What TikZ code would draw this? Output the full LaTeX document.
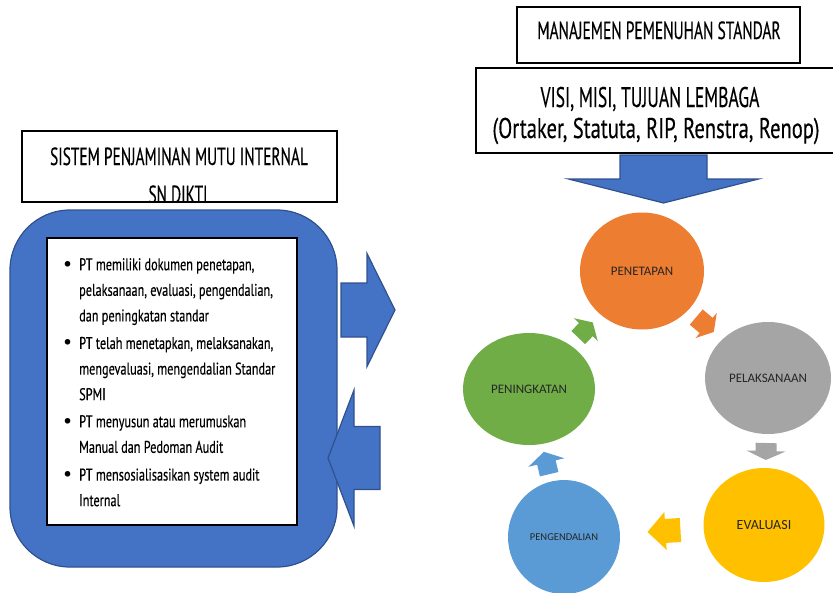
\documentclass[tikz,border=0pt]{standalone}
\usepackage{fontspec}
\setmainfont{PT Sans}
\newfontfamily\condfont[FakeStretch=0.62,FakeBold=0.3]{PT Sans}
\newfontfamily\textcondfont[FakeStretch=0.72,FakeBold=0.3]{PT Sans}
\newfontfamily\labelfont{Carlito}
\usetikzlibrary{shapes.geometric,calc}
\definecolor{officeblue}{HTML}{4472C4}
\definecolor{officedark}{HTML}{2F528F}
\definecolor{officeorange}{HTML}{ED7D31}
\definecolor{officegray}{HTML}{A5A5A5}
\definecolor{officegold}{HTML}{FFC000}
\definecolor{officesky}{HTML}{5B9BD5}
\definecolor{officegreen}{HTML}{70AD47}
\newcommand{\bulletmark}{\makebox[16pt][l]{{\fontspec{PT Sans}\fontsize{20}{20}\selectfont\textbullet}}}
\newcommand{\bulletgap}{\hspace*{16pt}}
\newcommand{\blockarrow}[7]{%
  \path[#7,shift={#1},rotate=#2] ({-#3/2},{-#5/2}) -- ({#3/2-#4},{-#5/2}) -- ({#3/2-#4},{-#6/2}) -- ({#3/2},0)
    -- ({#3/2-#4},{#6/2}) -- ({#3/2-#4},{#5/2}) -- ({-#3/2},{#5/2}) -- cycle;}
\newcommand{\cyclearrow}[7]{%
  \pgfmathanglebetweenpoints{\pgfpointanchor{#1}{center}}{\pgfpointanchor{#2}{center}}%
  \edef\arrowangle{\pgfmathresult}%
  \blockarrow{($(#1)!0.5!(#2)$)}{\arrowangle}{#3}{#4}{#5}{#6}{#7}}

\begin{document}
\begin{tikzpicture}[x=1pt,y=-1pt,
		box/.style={draw,line width=1.2pt,fill=white,inner sep=0pt},
		title/.style={font=\condfont\fontsize{24.8}{28}\selectfont,anchor=base,inner sep=0pt},
		item/.style={font=\textcondfont\fontsize{17}{25.6}\selectfont,align=left,anchor=north west,inner sep=0pt},
		phase/.style={ellipse,inner sep=0pt,text=black!85,font=\labelfont\fontsize{13}{15}\selectfont},
		bigarrow/.style={fill=officeblue,draw=officedark,line width=1.2pt}]
		\useasboundingbox (0,0) rectangle (833,592);
		
		\node[box,minimum width=315,minimum height=71] (spmi) at (179.5,166.5) {};
		\begin{scope}
			\clip (spmi.south west) rectangle (spmi.north east);
			\node[title] (spmi1) at (179,165) {SISTEM PENJAMINAN MUTU INTERNAL};
			\node[title] (spmi2) at (178,203) {SN DIKTI};
		\end{scope}
		\node[draw=officedark,fill=officeblue,line width=1.2pt,rounded corners=60,minimum width=327,minimum height=357] (frame) at (173.5,388.5) {};
		\node[box,minimum width=250,minimum height=287] (list) at (172,381.5) {};
		\node[item] (i1) at (63,258) {\bulletmark PT memiliki dokumen penetapan,\\\bulletgap pelaksanaan, evaluasi, pengendalian,\\\bulletgap dan peningkatan standar};
		\node[item] (i2) at (63,336.7) {\bulletmark PT telah menetapkan, melaksanakan,\\\bulletgap mengevaluasi, mengendalian Standar\\\bulletgap SPMI};
		\node[item] (i3) at (63,415) {\bulletmark PT menyusun atau merumuskan\\\bulletgap Manual dan Pedoman Audit};
		\node[item] (i4) at (63,468.3) {\bulletmark PT mensosialisasikan system audit\\\bulletgap Internal};
		
		\node[box,minimum width=283,minimum height=56] (mps) at (658.5,35) {};
		\node[title,font=\condfont\fontsize{24.9}{28}\selectfont] (mpst) at (659,39) {MANAJEMEN PEMENUHAN STANDAR};
		\node[box,minimum width=362,minimum height=85] (visi) at (657,110.5) {};
		\node[title,font=\condfont\fontsize{28.4}{30}\selectfont] (visi1) at (650,107) {VISI, MISI, TUJUAN LEMBAGA};
		\node[title,font=\textcondfont\fontsize{28.5}{30}\selectfont] (visi2) at (656,138) {(Ortaker, Statuta, RIP, Renstra, Renop)};
		
		\node[phase,fill=officeorange,minimum width=124,minimum height=117] (pen) at (642,271) {PENETAPAN};
		\node[phase,fill=officegray,minimum width=126,minimum height=112] (pel) at (768,378) {PELAKSANAAN};
		\node[phase,fill=officegold,minimum width=121,minimum height=114,font=\labelfont\fontsize{14}{16}\selectfont] (eva) at (764,525) {EVALUASI};
		\node[phase,fill=officesky,minimum width=112,minimum height=114,font=\labelfont\fontsize{10.5}{12}\selectfont] (pgd) at (564,537) {PENGENDALIAN};
		\node[phase,fill=officegreen,minimum width=132,minimum height=112] (pnk) at (529,389) {PENINGKATAN};
		
		\blockarrow{(368,310)}{0}{54}{28}{54}{113}{bigarrow}
		\blockarrow{(354,458)}{180}{52}{26}{63}{136}{bigarrow}
		\blockarrow{(663.5,179)}{-90}{48}{24}{87}{190}{bigarrow}
		\cyclearrow{pen}{pel}{23}{10}{20}{33}{fill=officeorange}
		\cyclearrow{pel}{eva}{17}{9}{21}{39}{fill=officegray}
		\cyclearrow{eva}{pgd}{33}{18}{24}{38}{fill=officegold}
		\cyclearrow{pgd}{pnk}{23}{11}{19}{37}{fill=officesky}
		\cyclearrow{pnk}{pen}{21}{10}{19}{33}{fill=officegreen}
	\end{tikzpicture}
\end{document}
